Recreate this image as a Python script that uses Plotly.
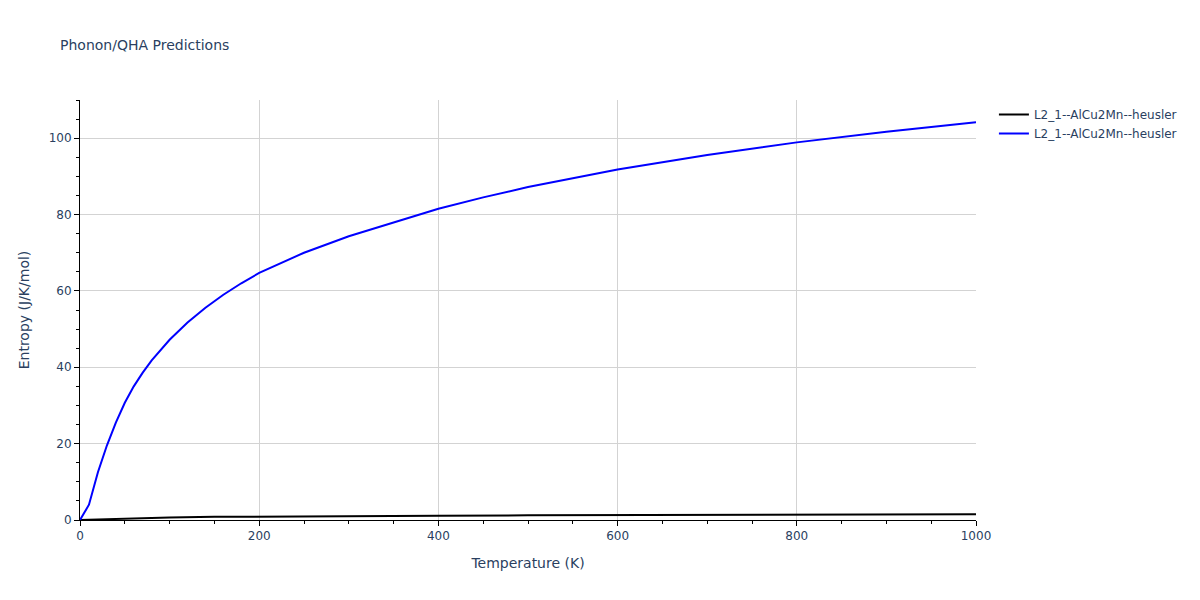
import plotly.graph_objects as go

temps_blue = [0, 10, 20, 30, 40, 50, 60, 70, 80, 100, 120, 140, 160, 180, 200, 250, 300, 350, 400, 450, 500, 600, 700, 800, 900, 1000]
entropy_blue = [0, 4.0, 12.5, 19.5, 25.5, 30.7, 35.0, 38.6, 41.8, 47.2, 51.7, 55.6, 59.0, 62.0, 64.7, 70.0, 74.3, 78.0, 81.5, 84.5, 87.2, 91.8, 95.6, 98.9, 101.7, 104.2]

temps_black = [0, 20, 40, 60, 80, 100, 150, 200, 300, 400, 500, 600, 700, 800, 900, 1000]
entropy_black = [0, 0.15, 0.35, 0.5, 0.6, 0.68, 0.82, 0.92, 1.05, 1.14, 1.22, 1.28, 1.34, 1.39, 1.44, 1.48]

series_name = "L2_1--AlCu2Mn--heusler"

fig = go.Figure()
fig.add_trace(go.Scatter(x=temps_black, y=entropy_black, mode="lines",
                         line=dict(color="black", width=2), name=series_name))
fig.add_trace(go.Scatter(x=temps_blue, y=entropy_blue, mode="lines",
                         line=dict(color="blue", width=2), name=series_name))

axis_common = dict(showline=True, linecolor="black", linewidth=1, ticks="outside",
                   tickcolor="black", ticklen=5, showgrid=True, gridcolor="#d3d3d3",
                   zeroline=False, mirror=False)

W, H = 1192, 592
fig.update_layout(
    width=W, height=H,
    title=dict(text="Phonon/QHA Predictions", x=52 / W, xanchor="left",
               y=1 - 37 / H, yanchor="middle", font=dict(size=14)),
    plot_bgcolor="white", paper_bgcolor="white",
    font=dict(family="DejaVu Sans, Verdana, sans-serif", color="#2a3f5f", size=12),
    margin=dict(l=72, r=224, t=92, b=80),
    xaxis=dict(title=dict(text="Temperature (K)", font=dict(size=14)), range=[0, 1000], dtick=200,
               minor=dict(ticks="outside", dtick=50, ticklen=3, tickcolor="black", showgrid=False),
               **axis_common),
    yaxis=dict(title=dict(text="Entropy (J/K/mol)", font=dict(size=14)), range=[0, 110], dtick=20,
               minor=dict(ticks="outside", dtick=5, ticklen=3, tickcolor="black", showgrid=False),
               **axis_common),
    legend=dict(x=1.02, y=1, xanchor="left", yanchor="top"),
)

fig.write_html("out.html")
